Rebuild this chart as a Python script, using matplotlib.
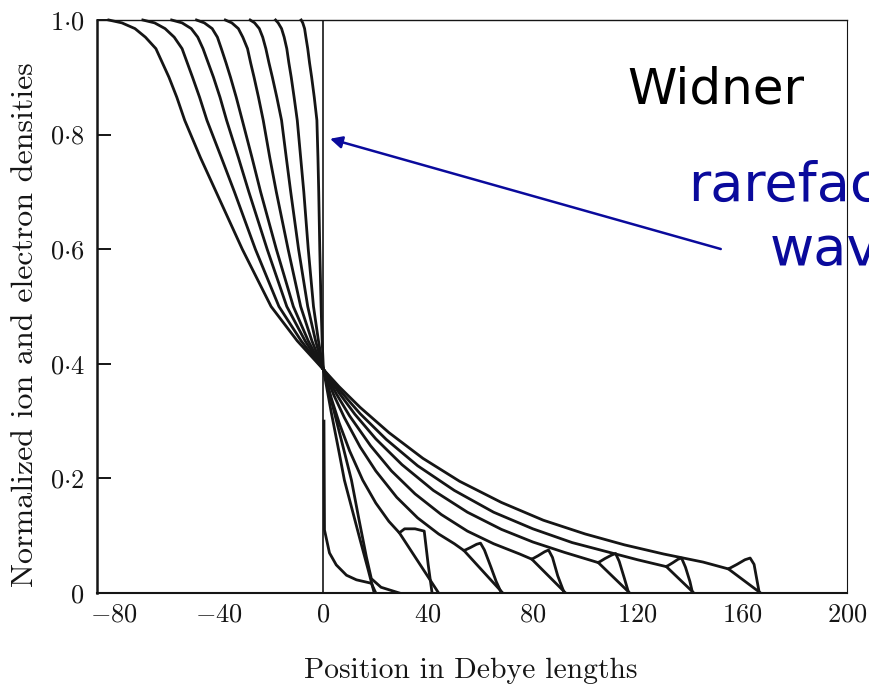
import matplotlib
matplotlib.use("Agg")
import matplotlib.pyplot as plt

# %% Datos

# Lado izquierdo: onda de rarefaccion (mismos niveles de densidad para todas las curvas)
izq_y = [1.0, 0.995, 0.985, 0.97, 0.95, 0.925, 0.90, 0.865, 0.825, 0.76, 0.70, 0.60, 0.50, 0.44, 0.39]
izq_x = [
    [-82, -77, -72, -68, -64, -61.5, -59, -56, -53, -47, -41, -31, -20, -10, 0],
    [-69, -64.5, -60.5, -57, -54, -52, -50, -47.3, -44.5, -39, -34, -26, -17, -8.5, 0],
    [-58, -54, -50.5, -48, -46, -44, -42, -39.5, -37, -32.5, -28.5, -21.5, -14, -7, 0],
    [-48.5, -45.5, -42.5, -40.5, -39, -37.2, -35.5, -33.3, -31, -27.3, -24, -18, -11.5, -5.8, 0],
    [-37.5, -35, -32.5, -30.8, -29, -27.8, -26.5, -24.8, -23, -20.5, -18, -13.5, -8.7, -4.4, 0],
    [-28, -26.3, -24.5, -23.2, -22, -20.8, -19.5, -17.8, -16, -14.2, -12.5, -9.5, -6, -3, 0],
    [-18.3, -17.3, -16, -15, -14, -13.2, -12.3, -11.2, -10, -8.7, -7.5, -5.8, -3.8, -1.9, 0],
    [-8.5, -7.9, -7.2, -6.7, -6, -5.3, -4.5, -3.5, -2.5, -2.1, -1.8, -1.4, -0.9, -0.5, 0],
]

# Lado derecho: densidad ionica con el pico en el frente
ion_x = [
    [0, 3, 6, 8, 11, 14, 17, 19.4],
    [0, 3, 6, 10, 15, 20, 25, 29, 31, 35, 38.5, 40, 41.5],
    [0, 4, 8, 14, 20, 28, 36, 44, 50, 53.7, 56, 58.5, 60, 61.5, 64, 66, 68],
    [0, 5, 10, 18, 26, 35, 45, 55, 65, 75, 79.6, 82, 84.5, 86, 87.5, 89.5, 92],
    [0, 6, 12, 20, 30, 42, 55, 68, 80, 92, 105, 107.5, 110, 111.6, 113, 115, 116.6],
    [0, 6, 14, 24, 36, 50, 65, 80, 95, 110, 120, 131, 133.5, 135.5, 136.8, 138.3, 140, 141],
    [0, 6, 14, 25, 38, 52, 68, 84, 100, 115, 130, 145, 154.7, 158, 161, 163, 164.5, 165.5, 166.5],
]
ion_y = [
    [0.39, 0.315, 0.245, 0.197, 0.145, 0.093, 0.042, 0],
    [0.39, 0.34, 0.297, 0.248, 0.197, 0.157, 0.125, 0.105, 0.112, 0.112, 0.108, 0.05, 0],
    [0.39, 0.345, 0.306, 0.255, 0.213, 0.167, 0.131, 0.103, 0.086, 0.074, 0.079, 0.085, 0.087, 0.075, 0.045, 0.02, 0],
    [0.39, 0.347, 0.309, 0.257, 0.213, 0.173, 0.137, 0.108, 0.086, 0.068, 0.059, 0.065, 0.072, 0.075, 0.062, 0.03, 0],
    [0.39, 0.349, 0.312, 0.269, 0.224, 0.179, 0.141, 0.111, 0.089, 0.071, 0.053, 0.06, 0.066, 0.069, 0.055, 0.025, 0],
    [0.39, 0.355, 0.313, 0.268, 0.222, 0.179, 0.141, 0.112, 0.088, 0.07, 0.058, 0.046, 0.053, 0.059, 0.061, 0.045, 0.02, 0],
    [0.39, 0.36, 0.324, 0.28, 0.235, 0.195, 0.158, 0.127, 0.103, 0.084, 0.068, 0.054, 0.042, 0.05, 0.058, 0.061, 0.05, 0.025, 0],
]

# Densidad electronica: tramo recto desde el inicio del pico hasta el eje
elec_x0 = [29, 53.7, 79.6, 105, 131, 154.7]
elec_y0 = [0.105, 0.074, 0.059, 0.053, 0.046, 0.042]
elec_x1 = [44, 68.5, 92.5, 117, 141.5, 167]

# Primer tiempo: curva electronica completa y curva inicial
elec1_x = [0, 4, 8, 10.7, 13.5, 16.4, 18.3, 22, 29]
elec1_y = [0.39, 0.318, 0.246, 0.197, 0.13, 0.063, 0.025, 0.01, 0]
ini_x = [0.2, 0.4, 2.3, 4.9, 8.8, 12.6, 18.3, 20]
ini_y = [0.3, 0.11, 0.07, 0.049, 0.031, 0.023, 0.017, 0]

# Escalon inicial en x = 0
esc_x = [0, 0]
esc_y = [0, 1]

xticks = [-80, -40, 0, 40, 80, 120, 160, 200]
xlabels = [r"$-80$", r"$-40$", r"$0$", r"$40$", r"$80$", r"$120$", r"$160$", r"$200$"]
yticks = [0, 0.2, 0.4, 0.6, 0.8, 1.0]
ylabels = [r"$0$", r"$0{\cdot}2$", r"$0{\cdot}4$", r"$0{\cdot}6$", r"$0{\cdot}8$", r"$1{\cdot}0$"]

# %% Grafico

plt.rcParams["mathtext.fontset"] = "cm"
plt.rcParams["font.family"] = ["cmr10", "DejaVu Serif"]
plt.rcParams["axes.formatter.use_mathtext"] = True

tinta = "#151515"
azul = "#0a0a9c"
lw = 2.0

fig = plt.figure(figsize=(8.7, 6.87), dpi=100)
ax = fig.add_axes([97 / 870, 1 - 593 / 687, 750 / 870, (593 - 20) / 687])

for xs in izq_x:
    ax.plot(xs, izq_y, "-", color=tinta, lw=lw, solid_joinstyle="round", clip_on=False)
for xs, ys in zip(ion_x, ion_y):
    ax.plot(xs, ys, "-", color=tinta, lw=lw, solid_joinstyle="round")
for x0, y0, x1 in zip(elec_x0, elec_y0, elec_x1):
    ax.plot([x0, x1], [y0, 0], "-", color=tinta, lw=lw)
ax.plot(elec1_x, elec1_y, "-", color=tinta, lw=lw, solid_joinstyle="round")
ax.plot(ini_x, ini_y, "-", color=tinta, lw=lw, solid_joinstyle="round")
ax.plot(esc_x, esc_y, "-", color=tinta, lw=1.2)

ax.set_xlim(-86.5, 200)
ax.set_ylim(0, 1.0)

ax.set_xticks(xticks)
ax.set_xticklabels(xlabels, fontsize=19)
ax.set_xticks([-80, -40], minor=True)
ax.set_yticks(yticks)
ax.set_yticklabels(ylabels, fontsize=19)
ax.tick_params(axis="x", which="major", length=0, pad=7, colors=tinta)
ax.tick_params(axis="x", which="minor", direction="in", length=13, width=1.4, color=tinta)
ax.tick_params(axis="y", which="major", direction="in", length=10, width=1.4, pad=9, colors=tinta)

for lado, ancho in [("left", 1.8), ("bottom", 1.5), ("top", 1.0), ("right", 0.8)]:
    ax.spines[lado].set_linewidth(ancho)
    ax.spines[lado].set_color(tinta)

ax.set_xlabel("Position in Debye lengths", fontsize=21.3, color=tinta)
ax.set_ylabel("Normalized ion and electron densities", fontsize=23, color=tinta)
ax.xaxis.set_label_coords(0.499, -0.112)
ax.yaxis.set_label_coords(-0.077, 0.468)

# Anotaciones agregadas encima de la figura
fig.text(627 / 870, 1 - 103 / 687, "Widner", fontsize=36, family="DejaVu Sans", color="black")
fig.text(688 / 870, 1 - 201 / 687, "rarefaction", fontsize=39, family="DejaVu Sans", color=azul)
fig.text(770 / 870, 1 - 265 / 687, "wave", fontsize=39, family="DejaVu Sans", color=azul)
ax.annotate("", xy=(1.5, 0.794), xytext=(152.8, 0.599),
            arrowprops=dict(arrowstyle="-|>", color=azul, lw=1.8, mutation_scale=18))

plt.savefig("out.png", dpi=100)
